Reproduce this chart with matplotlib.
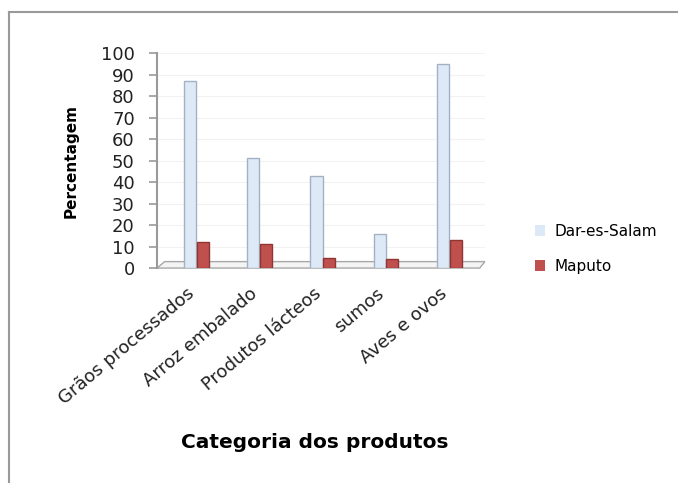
import matplotlib.pyplot as plt
from matplotlib.lines import Line2D
from matplotlib.patches import Polygon
from matplotlib.transforms import ScaledTranslation
import numpy as np

categorias = ["Grãos processados", "Arroz embalado", "Produtos lácteos", "sumos", "Aves e ovos"]
dar_es_salam = [87, 51, 43, 16, 95]
maputo = [12, 11, 4.5, 4, 13]

x = np.arange(len(categorias))
w = 0.19

fig = plt.figure(figsize=(6.78, 4.83), dpi=100)
ax = fig.add_axes([0.2316, 0.445, 0.4835, 0.445])

ax.bar(x - 0.1, dar_es_salam, w, color="#dde9f7", edgecolor="#a3b1c2", linewidth=1.0,
       label="Dar-es-Salam", zorder=3)
ax.bar(x + 0.1, maputo, w, color="#c0504d", edgecolor="#8f3533", linewidth=1.0,
       label="Maputo", zorder=3)

ax.set_xlim(-0.62, 4.56)
ax.set_ylim(0, 100)
ax.set_yticks(range(0, 101, 10))
ax.tick_params(axis="y", labelsize=13, length=6, width=1.2, color="#9a9a9a",
               labelcolor="#222222", pad=10)
ax.yaxis.grid(True, color="#f2f2f2", linewidth=0.8, zorder=0)

ax.set_xticks(x)
ax.set_xticklabels(categorias, rotation=40, ha="right", va="top",
                   rotation_mode="anchor", fontsize=13, color="#222222")
ax.tick_params(axis="x", length=0, pad=12)
shift = ScaledTranslation(-10 / 100, 0, fig.dpi_scale_trans)
for lbl in ax.get_xticklabels():
    lbl.set_transform(lbl.get_transform() + shift)

for s in ["top", "right", "bottom"]:
    ax.spines[s].set_visible(False)
ax.spines["left"].set_color("#9a9a9a")
ax.spines["left"].set_linewidth(1.5)

# piso em perspectiva
x0, x1 = ax.get_xlim()
floor = Polygon([[x0, 0], [x1 - 0.08, 0], [x1, 3], [x0 + 0.12, 3]], closed=True,
                facecolor="#f4f4f4", edgecolor="#a8a8a8", linewidth=1.0,
                clip_on=False, zorder=2)
ax.add_patch(floor)

ax.set_ylabel("Percentagem", fontsize=11, fontweight="bold", labelpad=16)
fig.text(315 / 678, 1 - 442 / 483, "Categoria dos produtos", fontsize=14.5,
         fontweight="bold", ha="center", va="center")

leg = ax.legend(loc="center left", bbox_to_anchor=(1.11, 0.09), frameon=False,
                fontsize=11, handlelength=0.7, handleheight=0.7, labelspacing=1.3,
                handletextpad=0.6)
for h in leg.legend_handles:
    h.set_edgecolor("none")

fig.add_artist(Line2D([9 / 678, 9 / 678], [0, 1 - 12 / 483], transform=fig.transFigure,
                      color="#9a9a9a", linewidth=1.5))
fig.add_artist(Line2D([9 / 678, 1], [1 - 12 / 483, 1 - 12 / 483], transform=fig.transFigure,
                      color="#9a9a9a", linewidth=1.5))

fig.savefig("out.png", dpi=100)
